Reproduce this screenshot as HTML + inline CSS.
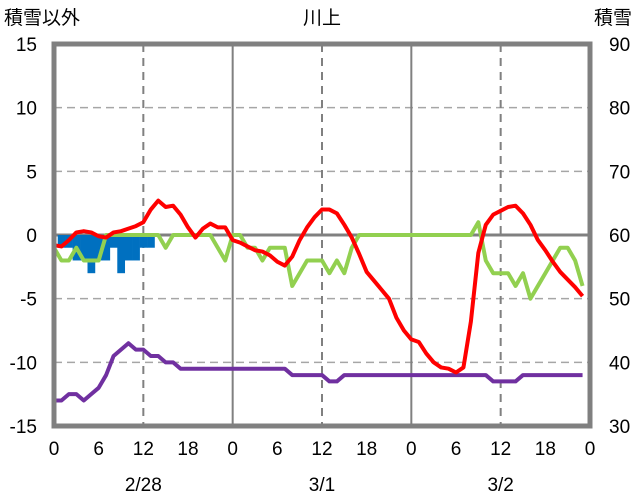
<!DOCTYPE html>
<html><head><meta charset="utf-8"><style>
body{margin:0;background:#fff;}
svg{display:block;font-family:"Liberation Sans","Noto Sans CJK JP",sans-serif;}
</style></head><body>
<svg id="chart" width="636" height="501" viewBox="0 0 636 501"></svg>
<script>
const hours = Array.from({length:72},(_,i)=>i);
const temperature = [-0.8,-0.9,-0.4,0.2,0.3,0.2,-0.1,-0.2,0.2,0.3,0.5,0.7,1.0,2.0,2.7,2.2,2.3,1.6,0.6,-0.2,0.5,0.9,0.6,0.6,
-0.4,-0.6,-0.9,-1.2,-1.3,-1.6,-2.1,-2.4,-1.7,-0.4,0.6,1.4,2.0,2.0,1.7,0.8,-0.2,-1.5,-2.9,-3.6,-4.3,-5.0,-6.5,-7.5,
-8.2,-8.4,-9.3,-10.0,-10.4,-10.5,-10.8,-10.4,-6.8,-1.4,0.8,1.6,1.9,2.2,2.3,1.7,0.8,-0.4,-1.2,-2.1,-2.9,-3.5,-4.1,-4.8];
const greenSeries = [-1,-2,-2,-1,-2,-2,-2,0,0,0,0,0,0,0,0,-1,0,0,0,0,0,0,-1,-2,
0,0,-1,-1,-2,-1,-1,-1,-4,-3,-2,-2,-2,-3,-2,-3,-1,0,0,0,0,0,0,0,
0,0,0,0,0,0,0,0,0,1,-2,-3,-3,-3,-4,-3,-5,-4,-3,-2,-1,-1,-2,-4];
const snowDepth = [34,34,35,35,34,35,36,38,41,42,43,42,42,41,41,40,40,39,39,39,39,39,39,39,
39,39,39,39,39,39,39,39,38,38,38,38,38,37,37,38,38,38,38,38,38,38,38,38,
38,38,38,38,38,38,38,38,38,38,38,37,37,37,37,38,38,38,38,38,38,38,38,38];
const snowfallHours = [1,2,3,4,5,6,7,8,9,10,11,12,13];
const snowfallValues = [-1,-1,-2,-2,-3,-2,-2,-1,-3,-2,-2,-1,-1];
const leftTicks = [15,10,5,0,-5,-10,-15];
const rightTicks = [90,80,70,60,50,40,30];
const xTickHours = [0,6,12,18,24,30,36,42,48,54,60,66,72];
const xTickLabels = ["0","6","12","18","0","6","12","18","0","6","12","18","0"];
const dateHours = [12,36,60];
const dateLabels = ["2/28","3/1","3/2"];

const L=54,R=590,T=44,B=426;
const x = h => L + (R-L)*h/72;
const yL = v => T + (15-v)*(B-T)/30;
const yR = v => T + (90-v)*(B-T)/60;
const svg=document.getElementById('chart');
const NS='http://www.w3.org/2000/svg';
function mk(tag,attrs){const e=document.createElementNS(NS,tag);for(const k in attrs)e.setAttribute(k,attrs[k]);svg.appendChild(e);return e;}

leftTicks.forEach(v=>{
  if(v===15||v===-15)return;
  const g=mk('line',{x1:L,x2:R,y1:yL(v),y2:yL(v),stroke:'#a6a6a6','stroke-width':v===0?3:1.5,'stroke-dasharray':v===0?'':'8,5'});
  if(v===0)g.setAttribute('stroke','#808080');
  
  
});
[12,24,36,48,60].forEach(h=>{
  const day=h%24===0;
  const g=mk('line',{x1:x(h),x2:x(h),y1:T,y2:B,stroke:'#808080','stroke-width':2,'stroke-dasharray':day?'':'8,6'});
  
  
});
const bw=(R-L)/72;
snowfallHours.forEach((h,i)=>{
  const v=snowfallValues[i];
  const r=mk('rect',{x:x(h)-bw/2,y:yL(0),width:bw+0.3,height:yL(v)-yL(0),fill:'#0070C0'});
  
  
});
function line(vals,fy,color,name){
  const p=mk('polyline',{points:vals.map((v,i)=>x(hours[i])+','+fy(v)).join(' '),fill:'none',stroke:color,'stroke-width':4,'stroke-linejoin':'round'});
  
  
}
line(snowDepth,yR,'#7030A0','snow-depth-line');
line(greenSeries,yL,'#92D050','green-series-line');
line(temperature,yL,'#FF0000','temperature-line');
const f=mk('rect',{x:L,y:T,width:R-L,height:B-T,fill:'none',stroke:'#808080','stroke-width':5});


function txt(s,tx,ty,anchor,name){
  const t=mk('text',{x:tx,y:ty,'text-anchor':anchor,'font-size':19,fill:'#000'});
  t.textContent=s;
  
  
}
leftTicks.forEach(v=>txt(String(v),37,yL(v)+7,'end','left-tick-label'));
rightTicks.forEach(v=>txt(String(v),609,yR(v)+7,'start','right-tick-label'));
xTickHours.forEach((h,i)=>txt(xTickLabels[i],x(h),455,'middle','x-tick-label'));
dateHours.forEach((h,i)=>txt(dateLabels[i],x(h),491,'middle','date-label'));
txt('積雪以外',4,24,'start','left-axis-title');
txt('川上',x(36),24,'middle','chart-title');
txt('積雪',632,24,'end','right-axis-title');
</script>
</body></html>
